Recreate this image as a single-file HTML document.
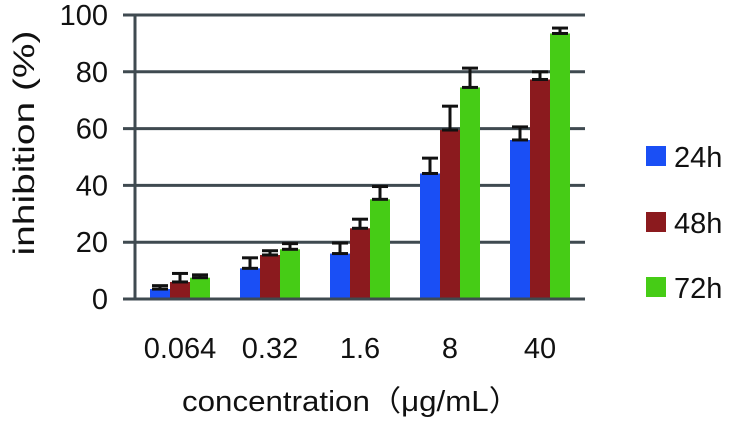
<!DOCTYPE html>
<html><head><meta charset="utf-8"><style>
body{margin:0;background:#fff;}
svg{display:block;font-family:"Liberation Sans","Noto Sans CJK SC",sans-serif;}
</style></head><body>
<svg id="chart" width="729" height="421" viewBox="0 0 729 421"></svg>
<script>
const categories = ["0.064","0.32","1.6","8","40"];
const seriesNames = ["24h","48h","72h"];
const values24 = [3.5,10.8,16,44.2,56];
const values48 = [6,15.5,24.9,59.5,77.3];
const values72 = [7.5,17.5,35.1,74.5,93.5];
const err24 = [1.2,3.7,3.7,5.4,4.6];
const err48 = [3,1.5,3.2,8.4,2.7];
const err72 = [1,2,4.5,6.8,1.9];
const yTicks = [0,20,40,60,80,100];

const colors = ["#1a4ff5","#8b1a1e","#46cc16"];
const NS = "http://www.w3.org/2000/svg";
const svg = document.getElementById("chart");
const x0 = 135, x1 = 585, yBase = 299, yTop = 15;
const yScale = v => yBase - (v/100)*(yBase-yTop);
const band = (x1-x0)/categories.length;
const barW = 20;
function mk(tag, attrs, parent){const e=document.createElementNS(NS,tag);for(const k in attrs)e.setAttribute(k,attrs[k]);(parent||svg).appendChild(e);return e;}

yTicks.forEach(t=>{
  const y=yScale(t);
  const l=mk("line",{x1:123,x2:x1,y1:y,y2:y,stroke:"#3f4a50","stroke-width":3});
  
  
  const tx=mk("text",{x:108,y:y+10,"text-anchor":"end","font-size":29,fill:"#111"});
  tx.textContent=t;
  
  
});
const ax=mk("line",{x1:x0,x2:x0,y1:yTop,y2:yBase,stroke:"#3f4a50","stroke-width":3});



const allVals=[values24,values48,values72], allErr=[err24,err48,err72];
categories.forEach((c,i)=>{
  const cx=x0+band*(i+0.5);
  allVals.forEach((vals,s)=>{
    const bx=cx-1.5*barW+s*barW;
    const y=yScale(vals[i]);
    const r=mk("rect",{x:bx,y:y,width:barW,height:yBase-y,fill:colors[s]});
    
    
    const ye=yScale(vals[i]+allErr[s][i]);
    const g=mk("g",{stroke:"#111","stroke-width":3});
    
    
    mk("line",{x1:bx+barW/2,x2:bx+barW/2,y1:y,y2:ye},g);
    mk("line",{x1:bx+2,x2:bx+barW-2,y1:ye,y2:ye},g);
    mk("line",{x1:bx+2,x2:bx+barW-2,y1:y,y2:y},g);
  });
  const t=mk("text",{x:cx,y:358,"text-anchor":"middle","font-size":29,fill:"#111"});
  t.textContent=c;
  
  
});
const base=mk("line",{x1:123,x2:x1,y1:yBase,y2:yBase,stroke:"#3f4a50","stroke-width":3});



const legY=[146,212,277];
seriesNames.forEach((n,s)=>{
  const r=mk("rect",{x:646,y:legY[s],width:20,height:20,fill:colors[s]});
  
  
  const t=mk("text",{x:674,y:legY[s]+21,"font-size":29,fill:"#111"});
  t.textContent=n;
  
  
});

const xt=mk("text",{x:182,y:411,"font-size":29,fill:"#111",textLength:338,lengthAdjust:"spacingAndGlyphs"});
xt.textContent="concentration（μg/mL）";


const yt=mk("text",{x:0,y:0,"font-size":30,fill:"#111","text-anchor":"middle",textLength:225,lengthAdjust:"spacingAndGlyphs",transform:"translate(34,143) rotate(-90)"});
yt.textContent="inhibition (%)";


</script>
</body></html>
